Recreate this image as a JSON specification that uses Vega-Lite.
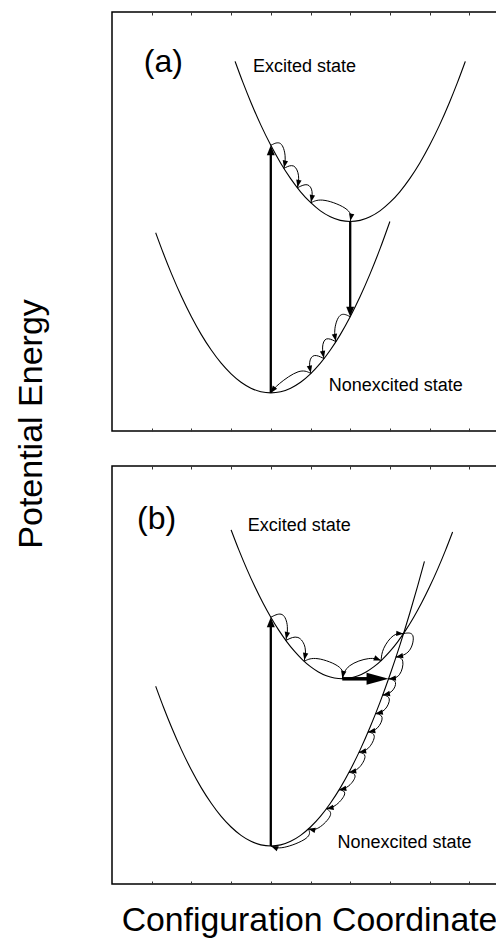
{
  "$schema": "https://vega.github.io/schema/vega-lite/v6.json",
  "padding": {"left": 14, "top": 10, "right": 0, "bottom": 0},
  "bounds": "flush",
  "spacing": 35,
  "config": {
    "font": "Liberation Sans",
    "view": {"stroke": "black", "strokeWidth": 1.5},
    "axis": {"labels": false, "domain": false, "grid": false, "tickColor": "#333", "tickWidth": 1, "titleFontWeight": "normal", "titleColor": "black"}
  },
  "datasets": {
    "curvesA": [
      {"curve": "exc", "x": 3.1, "y": 19.41}, {"curve": "exc", "x": 3.3, "y": 18.29}, {"curve": "exc", "x": 3.5, "y": 17.25},
      {"curve": "exc", "x": 3.75, "y": 16.06}, {"curve": "exc", "x": 4.0, "y": 15.0}, {"curve": "exc", "x": 4.25, "y": 14.06},
      {"curve": "exc", "x": 4.5, "y": 13.25}, {"curve": "exc", "x": 4.75, "y": 12.56}, {"curve": "exc", "x": 5.0, "y": 12.0},
      {"curve": "exc", "x": 5.25, "y": 11.56}, {"curve": "exc", "x": 5.5, "y": 11.25}, {"curve": "exc", "x": 5.75, "y": 11.06},
      {"curve": "exc", "x": 6.0, "y": 11.0}, {"curve": "exc", "x": 6.25, "y": 11.06}, {"curve": "exc", "x": 6.5, "y": 11.25},
      {"curve": "exc", "x": 6.75, "y": 11.56}, {"curve": "exc", "x": 7.0, "y": 12.0}, {"curve": "exc", "x": 7.25, "y": 12.56},
      {"curve": "exc", "x": 7.5, "y": 13.25}, {"curve": "exc", "x": 7.75, "y": 14.06}, {"curve": "exc", "x": 8.0, "y": 15.0},
      {"curve": "exc", "x": 8.25, "y": 16.06}, {"curve": "exc", "x": 8.5, "y": 17.25}, {"curve": "exc", "x": 8.7, "y": 18.29},
      {"curve": "exc", "x": 8.9, "y": 19.41},
      {"curve": "gnd", "x": 1.1, "y": 10.41}, {"curve": "gnd", "x": 1.3, "y": 9.29}, {"curve": "gnd", "x": 1.5, "y": 8.25},
      {"curve": "gnd", "x": 1.75, "y": 7.06}, {"curve": "gnd", "x": 2.0, "y": 6.0}, {"curve": "gnd", "x": 2.25, "y": 5.06},
      {"curve": "gnd", "x": 2.5, "y": 4.25}, {"curve": "gnd", "x": 2.75, "y": 3.56}, {"curve": "gnd", "x": 3.0, "y": 3.0},
      {"curve": "gnd", "x": 3.25, "y": 2.56}, {"curve": "gnd", "x": 3.5, "y": 2.25}, {"curve": "gnd", "x": 3.75, "y": 2.06},
      {"curve": "gnd", "x": 4.0, "y": 2.0}, {"curve": "gnd", "x": 4.25, "y": 2.06}, {"curve": "gnd", "x": 4.5, "y": 2.25},
      {"curve": "gnd", "x": 4.75, "y": 2.56}, {"curve": "gnd", "x": 5.0, "y": 3.0}, {"curve": "gnd", "x": 5.25, "y": 3.56},
      {"curve": "gnd", "x": 5.5, "y": 4.25}, {"curve": "gnd", "x": 5.75, "y": 5.06}, {"curve": "gnd", "x": 6.0, "y": 6.0},
      {"curve": "gnd", "x": 6.25, "y": 7.06}, {"curve": "gnd", "x": 6.5, "y": 8.25}, {"curve": "gnd", "x": 6.75, "y": 9.56},
      {"curve": "gnd", "x": 7.0, "y": 11.0}
    ],
    "curvesB": [
      {"curve": "exc", "x": 3.0, "y": 18.64}, {"curve": "exc", "x": 3.2, "y": 17.56}, {"curve": "exc", "x": 3.4, "y": 16.56},
      {"curve": "exc", "x": 3.6, "y": 15.64}, {"curve": "exc", "x": 3.8, "y": 14.8}, {"curve": "exc", "x": 4.0, "y": 14.04},
      {"curve": "exc", "x": 4.2, "y": 13.36}, {"curve": "exc", "x": 4.4, "y": 12.76}, {"curve": "exc", "x": 4.6, "y": 12.24},
      {"curve": "exc", "x": 4.8, "y": 11.8}, {"curve": "exc", "x": 5.0, "y": 11.44}, {"curve": "exc", "x": 5.2, "y": 11.16},
      {"curve": "exc", "x": 5.4, "y": 10.96}, {"curve": "exc", "x": 5.6, "y": 10.84}, {"curve": "exc", "x": 5.8, "y": 10.8},
      {"curve": "exc", "x": 6.0, "y": 10.84}, {"curve": "exc", "x": 6.2, "y": 10.96}, {"curve": "exc", "x": 6.4, "y": 11.16},
      {"curve": "exc", "x": 6.6, "y": 11.44}, {"curve": "exc", "x": 6.8, "y": 11.8}, {"curve": "exc", "x": 7.0, "y": 12.24},
      {"curve": "exc", "x": 7.2, "y": 12.76}, {"curve": "exc", "x": 7.4, "y": 13.36}, {"curve": "exc", "x": 7.6, "y": 14.04},
      {"curve": "exc", "x": 7.8, "y": 14.8}, {"curve": "exc", "x": 8.0, "y": 15.64}, {"curve": "exc", "x": 8.2, "y": 16.56},
      {"curve": "exc", "x": 8.4, "y": 17.56}, {"curve": "exc", "x": 8.58, "y": 18.53},
      {"curve": "gnd", "x": 1.1, "y": 10.41}, {"curve": "gnd", "x": 1.3, "y": 9.29}, {"curve": "gnd", "x": 1.5, "y": 8.25},
      {"curve": "gnd", "x": 1.75, "y": 7.06}, {"curve": "gnd", "x": 2.0, "y": 6.0}, {"curve": "gnd", "x": 2.25, "y": 5.06},
      {"curve": "gnd", "x": 2.5, "y": 4.25}, {"curve": "gnd", "x": 2.75, "y": 3.56}, {"curve": "gnd", "x": 3.0, "y": 3.0},
      {"curve": "gnd", "x": 3.25, "y": 2.56}, {"curve": "gnd", "x": 3.5, "y": 2.25}, {"curve": "gnd", "x": 3.75, "y": 2.06},
      {"curve": "gnd", "x": 4.0, "y": 2.0}, {"curve": "gnd", "x": 4.25, "y": 2.06}, {"curve": "gnd", "x": 4.5, "y": 2.25},
      {"curve": "gnd", "x": 4.75, "y": 2.56}, {"curve": "gnd", "x": 5.0, "y": 3.0}, {"curve": "gnd", "x": 5.25, "y": 3.56},
      {"curve": "gnd", "x": 5.5, "y": 4.25}, {"curve": "gnd", "x": 5.75, "y": 5.06}, {"curve": "gnd", "x": 6.0, "y": 6.0},
      {"curve": "gnd", "x": 6.25, "y": 7.06}, {"curve": "gnd", "x": 6.5, "y": 8.25}, {"curve": "gnd", "x": 6.75, "y": 9.56},
      {"curve": "gnd", "x": 7.0, "y": 11.0}, {"curve": "gnd", "x": 7.25, "y": 12.56}, {"curve": "gnd", "x": 7.5, "y": 14.25},
      {"curve": "gnd", "x": 7.7, "y": 15.69}, {"curve": "gnd", "x": 7.87, "y": 16.98}
    ],
    "hopsA": [
      {"arc": "A1", "k": 0, "x": 4.00, "y": 15.00}, {"arc": "A1", "k": 1, "x": 4.27, "y": 15.28}, {"arc": "A1", "k": 2, "x": 4.39, "y": 14.41}, {"arc": "A1", "k": 3, "x": 4.33, "y": 13.79},
      {"arc": "A2", "k": 0, "x": 4.33, "y": 13.79}, {"arc": "A2", "k": 1, "x": 4.60, "y": 14.07}, {"arc": "A2", "k": 2, "x": 4.73, "y": 13.39}, {"arc": "A2", "k": 3, "x": 4.67, "y": 12.77},
      {"arc": "A3", "k": 0, "x": 4.67, "y": 12.77}, {"arc": "A3", "k": 1, "x": 4.94, "y": 13.05}, {"arc": "A3", "k": 2, "x": 5.07, "y": 12.60}, {"arc": "A3", "k": 3, "x": 5.01, "y": 11.98},
      {"arc": "A4", "k": 0, "x": 5.01, "y": 11.98}, {"arc": "A4", "k": 1, "x": 5.28, "y": 12.26}, {"arc": "A4", "k": 2, "x": 6.06, "y": 11.62}, {"arc": "A4", "k": 3, "x": 6.00, "y": 11.00},
      {"arc": "B1", "k": 0, "x": 6.00, "y": 6.00}, {"arc": "B1", "k": 1, "x": 5.73, "y": 6.28}, {"arc": "B1", "k": 2, "x": 5.58, "y": 5.31}, {"arc": "B1", "k": 3, "x": 5.64, "y": 4.69},
      {"arc": "B2", "k": 0, "x": 5.64, "y": 4.69}, {"arc": "B2", "k": 1, "x": 5.37, "y": 4.97}, {"arc": "B2", "k": 2, "x": 5.28, "y": 4.42}, {"arc": "B2", "k": 3, "x": 5.34, "y": 3.80},
      {"arc": "B3", "k": 0, "x": 5.34, "y": 3.80}, {"arc": "B3", "k": 1, "x": 5.07, "y": 4.08}, {"arc": "B3", "k": 2, "x": 4.95, "y": 3.64}, {"arc": "B3", "k": 3, "x": 5.01, "y": 3.02},
      {"arc": "B4", "k": 0, "x": 5.01, "y": 3.02}, {"arc": "B4", "k": 1, "x": 4.74, "y": 3.30}, {"arc": "B4", "k": 2, "x": 4.15, "y": 2.42}, {"arc": "B4", "k": 3, "x": 4.00, "y": 2.00}
    ],
    "hopsB": [
      {"arc": "C1", "k": 0, "x": 4.00, "y": 14.04}, {"arc": "C1", "k": 1, "x": 4.32, "y": 14.37}, {"arc": "C1", "k": 2, "x": 4.45, "y": 13.54}, {"arc": "C1", "k": 3, "x": 4.38, "y": 12.82},
      {"arc": "C2", "k": 0, "x": 4.38, "y": 12.82}, {"arc": "C2", "k": 1, "x": 4.70, "y": 13.15}, {"arc": "C2", "k": 2, "x": 4.91, "y": 12.44}, {"arc": "C2", "k": 3, "x": 4.84, "y": 11.72},
      {"arc": "C3", "k": 0, "x": 4.84, "y": 11.72}, {"arc": "C3", "k": 1, "x": 5.11, "y": 12.00}, {"arc": "C3", "k": 2, "x": 5.86, "y": 11.42}, {"arc": "C3", "k": 3, "x": 5.80, "y": 10.80},
      {"arc": "D1", "k": 0, "x": 5.80, "y": 10.80}, {"arc": "D1", "k": 1, "x": 5.90, "y": 11.54}, {"arc": "D1", "k": 2, "x": 6.53, "y": 11.97}, {"arc": "D1", "k": 3, "x": 6.78, "y": 11.76},
      {"arc": "D2", "k": 0, "x": 6.78, "y": 11.76}, {"arc": "D2", "k": 1, "x": 6.80, "y": 12.36}, {"arc": "D2", "k": 2, "x": 7.09, "y": 13.21}, {"arc": "D2", "k": 3, "x": 7.34, "y": 13.18},
      {"arc": "D3", "k": 0, "x": 7.34, "y": 13.18}, {"arc": "D3", "k": 1, "x": 7.65, "y": 13.28}, {"arc": "D3", "k": 2, "x": 7.53, "y": 12.11}, {"arc": "D3", "k": 3, "x": 7.15, "y": 11.95},
      {"arc": "D4", "k": 0, "x": 7.15, "y": 11.95}, {"arc": "D4", "k": 1, "x": 7.38, "y": 11.89}, {"arc": "D4", "k": 2, "x": 7.27, "y": 10.85}, {"arc": "D4", "k": 3, "x": 6.97, "y": 10.80},
      {"arc": "F1", "k": 0, "x": 6.97, "y": 10.80}, {"arc": "F1", "k": 1, "x": 7.20, "y": 10.70}, {"arc": "F1", "k": 2, "x": 7.07, "y": 10.06}, {"arc": "F1", "k": 3, "x": 6.82, "y": 9.95},
      {"arc": "F2", "k": 0, "x": 6.82, "y": 9.95}, {"arc": "F2", "k": 1, "x": 7.05, "y": 9.85}, {"arc": "F2", "k": 2, "x": 6.89, "y": 9.08}, {"arc": "F2", "k": 3, "x": 6.64, "y": 8.97},
      {"arc": "F3", "k": 0, "x": 6.64, "y": 8.97}, {"arc": "F3", "k": 1, "x": 6.87, "y": 8.87}, {"arc": "F3", "k": 2, "x": 6.70, "y": 8.11}, {"arc": "F3", "k": 3, "x": 6.45, "y": 8.00},
      {"arc": "F4", "k": 0, "x": 6.45, "y": 8.00}, {"arc": "F4", "k": 1, "x": 6.68, "y": 7.90}, {"arc": "F4", "k": 2, "x": 6.47, "y": 7.04}, {"arc": "F4", "k": 3, "x": 6.22, "y": 6.93},
      {"arc": "F5", "k": 0, "x": 6.22, "y": 6.93}, {"arc": "F5", "k": 1, "x": 6.45, "y": 6.83}, {"arc": "F5", "k": 2, "x": 6.22, "y": 5.99}, {"arc": "F5", "k": 3, "x": 5.97, "y": 5.88},
      {"arc": "F6", "k": 0, "x": 5.97, "y": 5.88}, {"arc": "F6", "k": 1, "x": 6.20, "y": 5.78}, {"arc": "F6", "k": 2, "x": 5.97, "y": 5.07}, {"arc": "F6", "k": 3, "x": 5.72, "y": 4.96},
      {"arc": "F7", "k": 0, "x": 5.72, "y": 4.96}, {"arc": "F7", "k": 1, "x": 5.95, "y": 4.86}, {"arc": "F7", "k": 2, "x": 5.65, "y": 4.07}, {"arc": "F7", "k": 3, "x": 5.40, "y": 3.96},
      {"arc": "F8", "k": 0, "x": 5.40, "y": 3.96}, {"arc": "F8", "k": 1, "x": 5.60, "y": 3.70}, {"arc": "F8", "k": 2, "x": 5.18, "y": 2.80}, {"arc": "F8", "k": 3, "x": 4.95, "y": 2.90},
      {"arc": "F9", "k": 0, "x": 4.95, "y": 2.90}, {"arc": "F9", "k": 1, "x": 5.03, "y": 2.43}, {"arc": "F9", "k": 2, "x": 4.25, "y": 1.79}, {"arc": "F9", "k": 3, "x": 4.00, "y": 2.00}
    ],
    "headsA": [
      {"x": 4.35, "y": 14.01, "heading": 191}, {"x": 4.69, "y": 12.99, "heading": 191},
      {"x": 5.03, "y": 12.20, "heading": 191}, {"x": 6.02, "y": 11.22, "heading": 191},
      {"x": 5.62, "y": 4.91, "heading": 169}, {"x": 5.32, "y": 4.02, "heading": 169},
      {"x": 4.99, "y": 3.24, "heading": 169}, {"x": 4.05, "y": 2.15, "heading": 217}
    ],
    "headsB": [
      {"x": 4.40, "y": 13.07, "heading": 191}, {"x": 4.86, "y": 11.97, "heading": 191}, {"x": 5.82, "y": 11.02, "heading": 191},
      {"x": 6.69, "y": 11.83, "heading": 112}, {"x": 7.25, "y": 13.18, "heading": 93},
      {"x": 7.24, "y": 11.98, "heading": 259}, {"x": 7.06, "y": 10.82, "heading": 265},
      {"x": 6.91, "y": 9.99, "heading": 259}, {"x": 6.73, "y": 9.01, "heading": 259}, {"x": 6.54, "y": 8.04, "heading": 259},
      {"x": 6.31, "y": 6.97, "heading": 259}, {"x": 6.06, "y": 5.92, "heading": 259}, {"x": 5.81, "y": 5.00, "heading": 259},
      {"x": 5.49, "y": 4.00, "heading": 259}, {"x": 5.03, "y": 2.86, "heading": 283}, {"x": 4.09, "y": 1.93, "heading": 292}
    ]
  },
  "vconcat": [
    {
      "width": 397,
      "height": 419,
      "resolve": {"axis": {"x": "independent"}},
      "layer": [
        {
          "data": {"name": "curvesA"},
          "mark": {"type": "line", "interpolate": "monotone", "color": "black", "strokeWidth": 1.1},
          "encoding": {
            "x": {"field": "x", "type": "quantitative", "scale": {"domain": [0, 10], "nice": false, "zero": false},
                  "axis": {"orient": "bottom", "values": [1, 2, 3, 4, 5, 6, 7, 8, 9], "tickSize": 3, "offset": -3, "title": null}},
            "y": {"field": "y", "type": "quantitative", "scale": {"domain": [0, 22], "nice": false},
                  "axis": {"values": [1, 2, 3, 4, 5, 6, 7, 8, 9, 10, 11, 12, 13, 14, 15, 16, 17, 18, 19, 20, 21], "tickSize": 2, "offset": -2, "title": null}},
            "detail": {"field": "curve"}
          }
        },
        {
          "data": {"name": "hopsA"},
          "mark": {"type": "line", "interpolate": "basis", "color": "black", "strokeWidth": 1},
          "encoding": {
            "x": {"field": "x", "type": "quantitative",
                  "axis": {"orient": "top", "values": [1, 2, 3, 4, 5, 6, 7, 8, 9], "tickSize": 3, "offset": -3, "title": null}},
            "y": {"field": "y", "type": "quantitative", "axis": null},
            "detail": {"field": "arc"},
            "order": {"field": "k"}
          }
        },
        {
          "data": {"values": [{"x": 4, "y": 2, "y2": 14.6}, {"x": 6, "y": 11, "y2": 6.4}]},
          "mark": {"type": "rule", "color": "black", "strokeWidth": 2.3},
          "encoding": {
            "x": {"field": "x", "type": "quantitative", "axis": null},
            "y": {"field": "y", "type": "quantitative", "axis": null},
            "y2": {"field": "y2"}
          }
        },
        {
          "data": {"name": "headsA"},
          "mark": {"type": "point", "shape": "M0,-1L0.75,1L-0.75,1Z", "filled": true, "color": "black", "opacity": 1, "size": 52},
          "encoding": {
            "x": {"field": "x", "type": "quantitative", "axis": null},
            "y": {"field": "y", "type": "quantitative", "axis": null},
            "angle": {"field": "heading", "type": "quantitative", "scale": null}
          }
        },
        {
          "data": {"values": [{"x": 4, "y": 14.74, "heading": 0}, {"x": 6, "y": 6.26, "heading": 180}]},
          "mark": {"type": "point", "shape": "M0,-1L0.8,1L-0.8,1Z", "filled": true, "color": "black", "opacity": 1, "size": 100},
          "encoding": {
            "x": {"field": "x", "type": "quantitative", "axis": null},
            "y": {"field": "y", "type": "quantitative", "axis": null},
            "angle": {"field": "heading", "type": "quantitative", "scale": null}
          }
        },
        {
          "data": {"values": [{"x": 0.8, "y": 18.85, "label": "(a)"}]},
          "mark": {"type": "text", "align": "left", "baseline": "alphabetic", "fontSize": 32, "color": "black"},
          "encoding": {
            "x": {"field": "x", "type": "quantitative", "axis": null},
            "y": {"field": "y", "type": "quantitative", "axis": null},
            "text": {"field": "label"}
          }
        },
        {
          "data": {"values": [{"x": 3.55, "y": 18.85, "label": "Excited state"}, {"x": 5.46, "y": 2.08, "label": "Nonexcited state"}]},
          "mark": {"type": "text", "align": "left", "baseline": "alphabetic", "fontSize": 18, "color": "black"},
          "encoding": {
            "x": {"field": "x", "type": "quantitative", "axis": null},
            "y": {"field": "y", "type": "quantitative", "axis": null},
            "text": {"field": "label"}
          }
        },
        {
          "data": {"values": [{"x": -2.02, "y": 0.37, "label": "Potential Energy"}]},
          "mark": {"type": "text", "align": "center", "baseline": "middle", "angle": 270, "fontSize": 34, "color": "black"},
          "encoding": {
            "x": {"field": "x", "type": "quantitative", "axis": null},
            "y": {"field": "y", "type": "quantitative", "axis": null},
            "text": {"field": "label"}
          }
        }
      ]
    },
    {
      "width": 397,
      "height": 418,
      "resolve": {"axis": {"x": "independent"}},
      "layer": [
        {
          "data": {"name": "curvesB"},
          "mark": {"type": "line", "interpolate": "monotone", "color": "black", "strokeWidth": 1.1},
          "encoding": {
            "x": {"field": "x", "type": "quantitative", "scale": {"domain": [0, 10], "nice": false, "zero": false},
                  "axis": {"orient": "bottom", "values": [1, 2, 3, 4, 5, 6, 7, 8, 9], "tickSize": 3, "offset": -3,
                           "title": "Configuration Coordinate", "titleFontSize": 33.8, "titleBaseline": "alphabetic", "titleX": 197, "titleY": 49}},
            "y": {"field": "y", "type": "quantitative", "scale": {"domain": [0, 22], "nice": false},
                  "axis": {"values": [1, 2, 3, 4, 5, 6, 7, 8, 9, 10, 11, 12, 13, 14, 15, 16, 17, 18, 19, 20, 21], "tickSize": 2, "offset": -2, "title": null}},
            "detail": {"field": "curve"}
          }
        },
        {
          "data": {"name": "hopsB"},
          "mark": {"type": "line", "interpolate": "basis", "color": "black", "strokeWidth": 1},
          "encoding": {
            "x": {"field": "x", "type": "quantitative",
                  "axis": {"orient": "top", "values": [1, 2, 3, 4, 5, 6, 7, 8, 9], "tickSize": 3, "offset": -3, "title": null}},
            "y": {"field": "y", "type": "quantitative", "axis": null},
            "detail": {"field": "arc"},
            "order": {"field": "k"}
          }
        },
        {
          "data": {"values": [{"x": 4, "y": 2, "y2": 13.65}]},
          "mark": {"type": "rule", "color": "black", "strokeWidth": 2.3},
          "encoding": {
            "x": {"field": "x", "type": "quantitative", "axis": null},
            "y": {"field": "y", "type": "quantitative", "axis": null},
            "y2": {"field": "y2"}
          }
        },
        {
          "data": {"values": [{"x": 5.8, "x2": 6.5, "y": 10.8}]},
          "mark": {"type": "rule", "color": "black", "strokeWidth": 3.5},
          "encoding": {
            "x": {"field": "x", "type": "quantitative", "axis": null},
            "x2": {"field": "x2"},
            "y": {"field": "y", "type": "quantitative", "axis": null}
          }
        },
        {
          "data": {"name": "headsB"},
          "mark": {"type": "point", "shape": "M0,-1L0.75,1L-0.75,1Z", "filled": true, "color": "black", "opacity": 1, "size": 52},
          "encoding": {
            "x": {"field": "x", "type": "quantitative", "axis": null},
            "y": {"field": "y", "type": "quantitative", "axis": null},
            "angle": {"field": "heading", "type": "quantitative", "scale": null}
          }
        },
        {
          "data": {"values": [{"x": 4, "y": 13.78, "heading": 0}]},
          "mark": {"type": "point", "shape": "M0,-1L0.8,1L-0.8,1Z", "filled": true, "color": "black", "opacity": 1, "size": 100},
          "encoding": {
            "x": {"field": "x", "type": "quantitative", "axis": null},
            "y": {"field": "y", "type": "quantitative", "axis": null},
            "angle": {"field": "heading", "type": "quantitative", "scale": null}
          }
        },
        {
          "data": {"values": [{"x": 6.69, "y": 10.8, "heading": 90}]},
          "mark": {"type": "point", "shape": "M0,-1L0.55,1L-0.55,1Z", "filled": true, "color": "black", "opacity": 1, "size": 484},
          "encoding": {
            "x": {"field": "x", "type": "quantitative", "axis": null},
            "y": {"field": "y", "type": "quantitative", "axis": null},
            "angle": {"field": "heading", "type": "quantitative", "scale": null}
          }
        },
        {
          "data": {"values": [{"x": 0.63, "y": 18.7, "label": "(b)"}]},
          "mark": {"type": "text", "align": "left", "baseline": "alphabetic", "fontSize": 32, "color": "black"},
          "encoding": {
            "x": {"field": "x", "type": "quantitative", "axis": null},
            "y": {"field": "y", "type": "quantitative", "axis": null},
            "text": {"field": "label"}
          }
        },
        {
          "data": {"values": [{"x": 3.42, "y": 18.6, "label": "Excited state"}, {"x": 5.68, "y": 1.9, "label": "Nonexcited state"}]},
          "mark": {"type": "text", "align": "left", "baseline": "alphabetic", "fontSize": 18, "color": "black"},
          "encoding": {
            "x": {"field": "x", "type": "quantitative", "axis": null},
            "y": {"field": "y", "type": "quantitative", "axis": null},
            "text": {"field": "label"}
          }
        }
      ]
    }
  ]
}
